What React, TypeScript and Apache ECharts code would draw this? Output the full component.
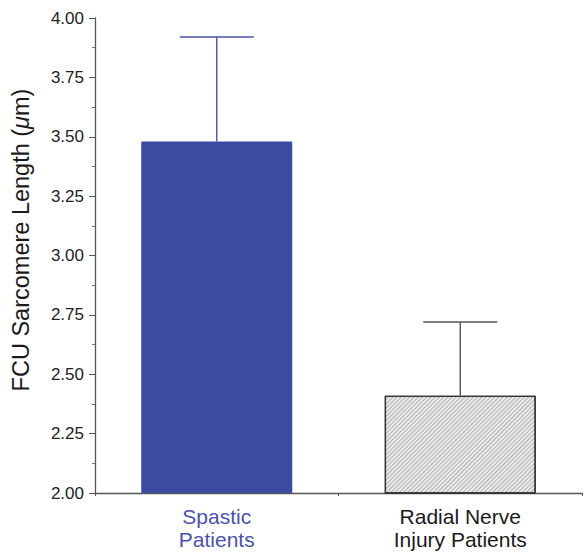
import React, { useEffect, useRef } from "react";
import * as echarts from "echarts";

const categories = ["Spastic\nPatients", "Radial Nerve\nInjury Patients"];
const means = [3.48, 2.41];
const errorTops = [3.92, 2.72];
const yTicks = ["2.00", "2.25", "2.50", "2.75", "3.00", "3.25", "3.50", "3.75", "4.00"];
const yTitle = "FCU Sarcomere Length ({i|μ}m)";

const BLUE = "#3a4ba1";

export default function App() {
  const ref = useRef<HTMLDivElement>(null);
  useEffect(() => {
    const chart = echarts.init(ref.current!, null, { renderer: "svg" });
    const font = "'Liberation Sans', Arial, Helvetica, sans-serif";
    chart.setOption({
      animation: false,
      backgroundColor: "#ffffff",
      grid: { left: 95, right: 2, top: 18, bottom: 59 },
      graphic: [
        {
          type: "text",
          x: 21,
          y: 240,
          rotation: Math.PI / 2,
          style: {
            text: yTitle,
            fontFamily: font,
            fontSize: 23.5,
            fill: "#1a1a1a",
            align: "center",
            verticalAlign: "middle",
            rich: { i: { fontFamily: font, fontSize: 23.5, fontStyle: "italic", fill: "#1a1a1a" } },
          },
        },
      ],
      xAxis: {
        type: "category",
        data: categories,
        axisLine: { lineStyle: { color: "#555", width: 1.3 } },
        axisTick: { show: true, length: 3, lineStyle: { color: "#555" } },
        axisLabel: {
          margin: 12,
          fontFamily: font,
          fontSize: 21,
          lineHeight: 23,
          color: (_v: any, i: number) => (i === 0 ? "#4a52ad" : "#1a1a1a"),
        },
      },
      yAxis: {
        type: "value",
        min: 2,
        max: 4,
        interval: 0.25,
        axisLine: { show: true, lineStyle: { color: "#555", width: 1.3 } },
        axisTick: { show: true, length: 6, lineStyle: { color: "#555" } },
        minorTick: { show: true, splitNumber: 2, length: 3, lineStyle: { color: "#777" } },
        splitLine: { show: false },
        axisLabel: {
          margin: 11,
          fontFamily: font,
          fontSize: 17,
          color: "#222",
          formatter: (v: number) => {
            const idx = Math.round((v - 2) / 0.25);
            return yTicks[idx] ?? v.toFixed(2);
          },
        },
      },
      series: [
        {
          type: "bar",
          barWidth: 151,
          data: [
            { value: means[0], itemStyle: { color: BLUE } },
            {
              value: means[1],
              itemStyle: {
                color: "#ebebeb",
                borderColor: "#333",
                borderWidth: 1.3,
                decal: {
                  symbol: "rect",
                  color: "rgba(90,90,90,0.4)",
                  dashArrayX: [1, 0],
                  dashArrayY: [1, 2],
                  rotation: -Math.PI / 4,
                  symbolSize: 1,
                },
              },
            },
          ],
        },
        {
          type: "custom",
          data: means.map((m, i) => [i, m, errorTops[i]]),
          z: 5,
          renderItem: (params: any, api: any) => {
            const i = api.value(0);
            const low = api.coord([i, api.value(1)]);
            const high = api.coord([i, api.value(2)]);
            const half = 37;
            const color = i === 0 ? "#4a52ad" : "#555";
            return {
              type: "group",
              children: [
                {
                  type: "line",
                  shape: { x1: low[0], y1: low[1], x2: high[0], y2: high[1] },
                  style: { stroke: color, lineWidth: 1.4 },
                },
                {
                  type: "line",
                  shape: { x1: high[0] - half, y1: high[1], x2: high[0] + half, y2: high[1] },
                  style: { stroke: color, lineWidth: 1.4 },
                },
              ],
            };
          },
        },
      ],
    });
    return () => chart.dispose();
  }, []);
  return (
    <div
      ref={ref}
      style={{ position: "fixed", left: 0, top: 0, width: 584, height: 552, background: "#fff" }}
    />
  );
}
